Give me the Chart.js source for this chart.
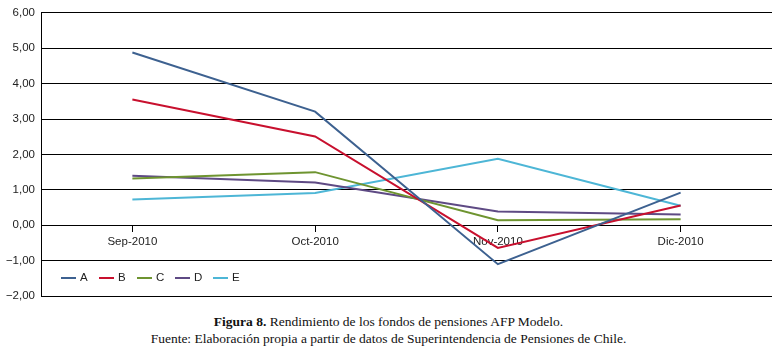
<!DOCTYPE html>
<html lang="es">
<head>
  <meta charset="UTF-8">
  <title>Rendimiento de los fondos de pensiones AFP Modelo</title>
  <script src="https://cdn.jsdelivr.net/npm/chart.js"></script>
  <style>
    body {
      margin: 0;
      background: #fff;
      width: 777px;
      height: 350px;
      overflow: hidden;
    }
    .wrap {
      position: relative;
      width: 777px;
      height: 310px;
    }
    .caption {
      position: absolute;
      left: 0;
      width: 777px;
      text-align: center;
      font-family: "Liberation Serif", serif;
      font-size: 13.5px;
      color: #111;
      line-height: 17px;
    }
  </style>
</head>
<body>
  <div class="wrap">
    <canvas id="chart" width="777" height="310"></canvas>
  </div>
  <div class="caption" style="top:313px">
    <b>Figura 8.</b> Rendimiento de los fondos de pensiones AFP Modelo.<br>
    Fuente: Elaboración propia a partir de datos de Superintendencia de Pensiones de Chile.
  </div>

  <script>
    const months = ['Sep-2010', 'Oct-2010', 'Nov-2010', 'Dic-2010'];
    const fondoA = [4.88, 3.21, -1.10, 0.92];
    const fondoB = [3.55, 2.51, -0.64, 0.56];
    const fondoC = [1.32, 1.50, 0.14, 0.17];
    const fondoD = [1.40, 1.21, 0.39, 0.30];
    const fondoE = [0.73, 0.91, 1.88, 0.55];
    const yTicks = [-2, -1, 0, 1, 2, 3, 4, 5, 6];

    const axisFont = { family: "'Liberation Sans Narrow', 'Arial Narrow', 'Liberation Sans', sans-serif", size: 11.5 };

    function serie(label, data, color) {
      return {
        label: label,
        data: data,
        borderColor: color,
        backgroundColor: color,
        borderWidth: 2,
        pointRadius: 0,
        tension: 0,
        fill: false
      };
    }

    // legend drawn inside the plot, bottom-left strip
    const innerLegend = {
      id: 'innerLegend',
      afterDraw(chart) {
        const ctx = chart.ctx;
        const area = chart.chartArea;
        let x = area.left + 20;
        const y = area.bottom - 18;
        ctx.save();
        ctx.font = axisFont.size + "px " + axisFont.family;
        ctx.textBaseline = 'middle';
        chart.data.datasets.forEach(ds => {
          ctx.strokeStyle = ds.borderColor;
          ctx.lineWidth = 2;
          ctx.beginPath();
          ctx.moveTo(x, y);
          ctx.lineTo(x + 15, y);
          ctx.stroke();
          ctx.fillStyle = '#222';
          ctx.fillText(ds.label, x + 19, y);
          x += 38;
        });
        ctx.restore();
      }
    };

    new Chart(document.getElementById('chart'), {
      type: 'line',
      data: {
        labels: months,
        datasets: [
          serie('A', fondoA, '#3d6190'),
          serie('B', fondoB, '#c8102e'),
          serie('C', fondoC, '#6e9430'),
          serie('D', fondoD, '#5e4a84'),
          serie('E', fondoE, '#4db6d6')
        ]
      },
      options: {
        responsive: false,
        animation: false,
        devicePixelRatio: 1,
        layout: { padding: { top: 10, right: 5, bottom: 14, left: 0 } },
        plugins: {
          legend: { display: false },
          tooltip: { enabled: false }
        },
        scales: {
          x: {
            type: 'category',
            position: { y: 0 },
            offset: true,
            grid: { drawOnChartArea: false, drawTicks: true, tickLength: 7, color: '#000' },
            border: { display: false },
            ticks: { color: '#222', font: axisFont, padding: 3, maxRotation: 0 }
          },
          y: {
            min: -2,
            max: 6,
            afterBuildTicks(scale) {
              scale.ticks = yTicks.map(v => ({ value: v }));
            },
            afterFit(scale) {
              scale.width = 41;
            },
            grid: { color: '#000', lineWidth: 1, drawTicks: false },
            border: { display: true, color: '#000', width: 1 },
            ticks: {
              color: '#222',
              font: axisFont,
              padding: 6,
              callback: v => (v < 0 ? '\u2212' : '') + Math.abs(v).toFixed(2).replace('.', ',')
            }
          }
        }
      },
      plugins: [innerLegend]
    });
  </script>
</body>
</html>
